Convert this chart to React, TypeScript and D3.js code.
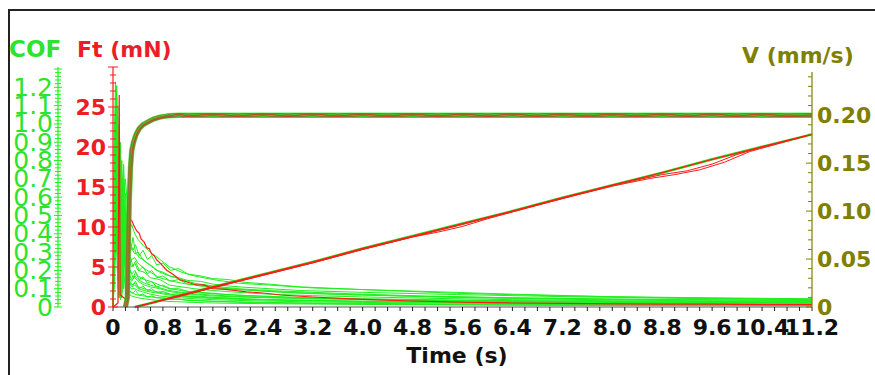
import * as d3 from 'd3';

// time grid shared by the first COF traces (s)
const cofTimes = [0, 0.02, 0.04, 0.06, 0.08, 0.1, 0.12, 0.14, 0.17, 0.2, 0.23, 0.26, 0.3, 0.35, 0.4, 0.5, 0.6, 0.75, 0.9, 1.1, 1.3, 1.6, 2.0, 2.5, 3.2, 4.0, 5.0, 6.4, 8.0, 9.6, 11.2];

const cof1 = [0, 0.9, 1.23, 0.7, 0.3, 0.1, 0.05, 0.3, 0.6, 0.7, 0.55, 0.42, 0.45, 0.4, 0.37, 0.33, 0.3, 0.26, 0.22, 0.19, 0.17, 0.15, 0.13, 0.12, 0.104, 0.095, 0.085, 0.07, 0.056, 0.05, 0.045];
const cof2 = [0, 0.5, 0.95, 1.21, 0.6, 0.2, 0.04, 0.2, 0.78, 0.5, 0.35, 0.3, 0.32, 0.29, 0.3, 0.25, 0.23, 0.19, 0.17, 0.15, 0.13, 0.115, 0.1, 0.09, 0.08, 0.07, 0.06, 0.05, 0.042, 0.038, 0.035];
const cof3 = [0, 0.3, 0.7, 1.0, 1.1, 0.5, 0.1, 0.05, 0.4, 0.62, 0.4, 0.25, 0.22, 0.24, 0.2, 0.19, 0.16, 0.15, 0.12, 0.11, 0.1, 0.09, 0.08, 0.07, 0.062, 0.055, 0.048, 0.04, 0.034, 0.03, 0.028];
const cof4 = [0, 0.6, 1.05, 0.5, 0.15, 0.6, 0.9, 0.3, 0.1, 0.45, 0.3, 0.2, 0.18, 0.2, 0.17, 0.15, 0.14, 0.12, 0.1, 0.09, 0.08, 0.072, 0.065, 0.058, 0.05, 0.045, 0.04, 0.035, 0.03, 0.027, 0.025];
const cof5 = [0, 0.4, 0.8, 1.15, 0.4, 0.05, 0.3, 0.7, 0.35, 0.2, 0.25, 0.18, 0.15, 0.16, 0.14, 0.12, 0.11, 0.1, 0.085, 0.075, 0.068, 0.06, 0.055, 0.05, 0.045, 0.04, 0.035, 0.03, 0.025, 0.022, 0.02];
const cof6 = [0, 0.2, 0.55, 0.85, 1.0, 0.8, 0.3, 0.08, 0.2, 0.35, 0.2, 0.14, 0.12, 0.13, 0.11, 0.1, 0.09, 0.08, 0.07, 0.062, 0.056, 0.05, 0.045, 0.04, 0.036, 0.032, 0.028, 0.024, 0.02, 0.018, 0.016];
const cof7 = [0, 0.7, 1.1, 0.9, 0.35, 0.1, 0.5, 0.8, 0.5, 0.25, 0.16, 0.11, 0.1, 0.1, 0.09, 0.08, 0.07, 0.06, 0.055, 0.05, 0.045, 0.04, 0.036, 0.032, 0.028, 0.025, 0.022, 0.019, 0.016, 0.014, 0.012];
const cof8 = [0, 0.35, 0.9, 0.6, 0.2, 0.4, 0.75, 0.55, 0.2, 0.1, 0.08, 0.09, 0.08, 0.07, 0.065, 0.06, 0.055, 0.05, 0.045, 0.04, 0.036, 0.032, 0.028, 0.025, 0.022, 0.02, 0.017, 0.015, 0.012, 0.01, 0.01];
const cof9 = [0, 0.8, 1.0, 0.45, 0.1, 0.05, 0.2, 0.6, 0.7, 0.3, 0.12, 0.07, 0.06, 0.055, 0.05, 0.045, 0.04, 0.035, 0.03, 0.028, 0.025, 0.022, 0.02, 0.018, 0.016, 0.014, 0.012, 0.01, 0.009, 0.008, 0.008];
const cof10 = [0, 0.25, 0.6, 0.95, 0.7, 0.25, 0.1, 0.4, 0.6, 0.45, 0.28, 0.22, 0.26, 0.27, 0.24, 0.21, 0.19, 0.16, 0.145, 0.13, 0.12, 0.105, 0.095, 0.085, 0.075, 0.066, 0.058, 0.05, 0.044, 0.04, 0.038];
const cof11 = [0, 0.45, 0.85, 0.65, 0.3, 0.55, 0.2, 0.06, 0.3, 0.5, 0.32, 0.16, 0.14, 0.17, 0.15, 0.13, 0.12, 0.105, 0.09, 0.08, 0.072, 0.065, 0.058, 0.052, 0.047, 0.042, 0.037, 0.032, 0.028, 0.025, 0.023];
const cof12 = [0, 0.15, 0.4, 0.7, 0.9, 0.45, 0.15, 0.2, 0.45, 0.38, 0.2, 0.13, 0.11, 0.12, 0.1, 0.09, 0.082, 0.074, 0.066, 0.058, 0.052, 0.047, 0.042, 0.038, 0.034, 0.03, 0.026, 0.022, 0.019, 0.017, 0.015];

// denser grid for the jagged traces
const cofTimesB = [0, 0.03, 0.05, 0.07, 0.09, 0.11, 0.13, 0.16, 0.19, 0.22, 0.25, 0.28, 0.32, 0.36, 0.42, 0.48, 0.55, 0.62, 0.7, 0.8, 0.92, 1.05, 1.2, 1.4, 1.6, 1.85, 2.1, 2.5, 3.0, 4.0, 5.5, 7.0, 9.0, 11.2];
const cofB1 = [0, 0.6, 0.3, 0.9, 0.5, 0.2, 0.6, 0.3, 0.55, 0.4, 0.3, 0.35, 0.31, 0.34, 0.28, 0.31, 0.26, 0.28, 0.23, 0.24, 0.2, 0.21, 0.18, 0.17, 0.155, 0.15, 0.135, 0.125, 0.11, 0.095, 0.075, 0.062, 0.05, 0.042];
const cofB2 = [0, 0.4, 0.8, 0.3, 0.7, 0.9, 0.4, 0.2, 0.5, 0.3, 0.24, 0.27, 0.22, 0.25, 0.2, 0.22, 0.18, 0.2, 0.16, 0.17, 0.14, 0.15, 0.125, 0.12, 0.11, 0.1, 0.095, 0.085, 0.075, 0.065, 0.052, 0.043, 0.035, 0.03];
const cofB3 = [0, 0.2, 0.5, 0.75, 0.35, 0.6, 0.8, 0.5, 0.35, 0.25, 0.18, 0.2, 0.16, 0.19, 0.15, 0.165, 0.13, 0.14, 0.11, 0.12, 0.1, 0.1, 0.085, 0.08, 0.075, 0.068, 0.062, 0.057, 0.05, 0.043, 0.035, 0.028, 0.022, 0.02];
const cofB4 = [0, 0.5, 0.9, 0.6, 0.25, 0.45, 0.3, 0.65, 0.4, 0.2, 0.15, 0.13, 0.12, 0.14, 0.1, 0.115, 0.09, 0.1, 0.08, 0.085, 0.07, 0.072, 0.06, 0.058, 0.053, 0.05, 0.045, 0.04, 0.036, 0.03, 0.024, 0.019, 0.015, 0.013];
const cofB5 = [0, 0.3, 0.65, 1.05, 0.5, 0.3, 0.55, 0.7, 0.3, 0.45, 0.35, 0.3, 0.38, 0.3, 0.27, 0.26, 0.24, 0.22, 0.2, 0.19, 0.17, 0.16, 0.145, 0.14, 0.125, 0.115, 0.108, 0.1, 0.09, 0.08, 0.068, 0.058, 0.048, 0.04];
const cofB6 = [0, 0.7, 0.4, 0.2, 0.6, 0.35, 0.15, 0.4, 0.25, 0.12, 0.1, 0.08, 0.075, 0.09, 0.065, 0.07, 0.055, 0.06, 0.05, 0.05, 0.042, 0.044, 0.036, 0.034, 0.03, 0.028, 0.025, 0.022, 0.02, 0.017, 0.013, 0.01, 0.008, 0.007];

const cofSeriesA = [cof1, cof2, cof3, cof4, cof5, cof6, cof7, cof8, cof9, cof10, cof11, cof12];
const cofSeriesB = [cofB1, cofB2, cofB3, cofB4, cofB5, cofB6];

// tangential force (mN)
const ftTimes = [0, 0.08, 0.1, 0.115, 0.2, 0.26, 0.3, 0.34, 0.38, 0.42, 0.45, 0.5, 0.54, 0.58, 0.62, 0.66, 0.7, 0.78, 0.86, 0.96, 1.07, 1.2, 1.34, 1.45, 1.6, 1.8, 2.14, 2.4, 2.68, 3.2, 4.0, 4.8, 5.6, 6.4, 7.2, 8.0, 8.8, 9.6, 10.4, 11.2];
const ftValues = [0, 0.5, 26.5, 1.5, 1, 11, 10.8, 10.1, 9.5, 9.2, 8.5, 8.1, 7.4, 7.3, 6.6, 6.4, 5.9, 5.3, 4.6, 4.1, 3.4, 3.1, 2.75, 2.8, 2.3, 2.2, 1.9, 1.75, 1.5, 1.25, 0.95, 0.75, 0.6, 0.5, 0.45, 0.4, 0.35, 0.35, 0.3, 0.3];

// velocity (mm/s)
const velTimes = [0.2, 0.23, 0.245, 0.26, 0.28, 0.3, 0.33, 0.37, 0.42, 0.48, 0.56, 0.65, 0.75, 0.9, 1.05, 1.2, 1.6, 2.0, 2.4, 2.8, 3.2, 3.6, 4.0, 4.4, 4.8, 5.2, 5.6, 6.0, 6.4, 6.8, 7.2, 7.6, 8.0, 8.4, 8.8, 9.2, 9.6, 10.0, 10.4, 10.8, 11.2];
const velA = [0, 0.01, 0.06, 0.11, 0.145, 0.163, 0.172, 0.18, 0.186, 0.19, 0.193, 0.196, 0.198, 0.1995, 0.2, 0.2, 0.2, 0.2, 0.2, 0.2, 0.2, 0.2, 0.2, 0.2, 0.2, 0.2, 0.2, 0.2, 0.2, 0.2, 0.2, 0.2, 0.2, 0.2, 0.2, 0.2, 0.2, 0.2, 0.2, 0.2, 0.2];
const velB = [0, 0.012, 0.065, 0.115, 0.148, 0.165, 0.174, 0.181, 0.187, 0.191, 0.194, 0.197, 0.199, 0.2015, 0.1985, 0.2015, 0.1985, 0.2015, 0.1985, 0.2015, 0.1985, 0.2015, 0.1985, 0.2015, 0.1985, 0.2015, 0.1985, 0.2015, 0.1985, 0.2015, 0.1985, 0.2015, 0.1985, 0.2015, 0.1985, 0.2015, 0.1985, 0.2015, 0.1985, 0.2015, 0.2];
const velC = [0, 0.008, 0.055, 0.105, 0.142, 0.16, 0.17, 0.178, 0.185, 0.189, 0.192, 0.195, 0.197, 0.1985, 0.2015, 0.1985, 0.2015, 0.1985, 0.2015, 0.1985, 0.2015, 0.1985, 0.2015, 0.1985, 0.2015, 0.1985, 0.2015, 0.1985, 0.2015, 0.1985, 0.2015, 0.1985, 0.2015, 0.1985, 0.2015, 0.1985, 0.2015, 0.1985, 0.2015, 0.1985, 0.2];

// ramps drawn against the right axis
const rampTimes = [0.35, 0.6, 1.0, 1.6, 2.4, 3.2, 4.0, 4.8, 5.6, 6.4, 7.2, 8.0, 8.8, 9.6, 10.4, 11.2];
const rampA = [0, 0.004, 0.011, 0.021, 0.034, 0.047, 0.061, 0.074, 0.087, 0.1, 0.114, 0.127, 0.14, 0.154, 0.167, 0.18];
const rampBTimes = [0.35, 0.8, 1.6, 2.4, 3.2, 4.0, 4.8, 5.6, 6.4, 7.2, 8.0, 8.6, 9.0, 9.4, 9.8, 10.2, 11.2];
const rampB = [0, 0.007, 0.02, 0.033, 0.046, 0.06, 0.073, 0.086, 0.1, 0.113, 0.126, 0.134, 0.138, 0.143, 0.151, 0.162, 0.18];
const rampCTimes = [0.35, 1.0, 1.6, 2.4, 3.2, 4.0, 4.8, 5.2, 5.6, 6.0, 6.4, 7.2, 8.0, 8.8, 9.2, 9.6, 10.0, 10.4, 11.2];
const rampC = [0, 0.01, 0.02, 0.033, 0.046, 0.06, 0.073, 0.078, 0.084, 0.092, 0.099, 0.113, 0.127, 0.138, 0.142, 0.149, 0.159, 0.167, 0.18];

const xTickLabels = ['0', '0.8', '1.6', '2.4', '3.2', '4.0', '4.8', '5.6', '6.4', '7.2', '8.0', '8.8', '9.6', '10.4', '11.2'];
const cofTickLabels = ['0', '0.1', '0.2', '0.3', '0.4', '0.5', '0.6', '0.7', '0.8', '0.9', '1.0', '1.1', '1.2'];
const ftTickLabels = ['0', '5', '10', '15', '20', '25'];
const vTickLabels = ['0', '0.05', '0.10', '0.15', '0.20'];

const GREEN = '#1ef01e';
const GREEN_TXT = '#2ee32e';
const RED = '#ff1a1a';
const RED_TXT = '#ee1c24';
const OLIVE = '#808000';
const BROWN = '#8a7733';
const FONT = '"DejaVu Sans", Verdana, sans-serif';

export default function App() {
  const x = d3.scaleLinear().domain([0, 11.2]).range([113, 812]);
  const yFt = d3.scaleLinear().domain([0, 30]).range([307, 67]);
  const yCof = d3.scaleLinear().domain([0, 1.311]).range([307, 67]);
  const yV = d3.scaleLinear().domain([0, 0.245]).range([307, 72]);

  const path = (ts: number[], vs: number[], y: d3.ScaleLinear<number, number>) =>
    d3
      .line<number>()
      .x((_, i) => x(ts[i]))
      .y((v) => y(v))(vs) ?? '';

  const xMinor = d3.range(0, 11.2001, 0.2);
  const ftMinor = d3.range(0, 30.001, 1);
  const cofMinor = d3.range(0, 1.3001, 0.02);
  const vMinor = d3.range(0, 0.2451, 0.01);

  return (
    <svg
      width={875}
      height={375}
      style={{ position: 'absolute', left: 0, top: 0, background: '#fff' }}
      fontFamily={FONT}
    >
      {/* frame */}
      <rect x={9} y={10} width={880} height={380} fill='none' stroke='#222' strokeWidth={2} />

      {/* COF traces */}
      {cofSeriesA.map((s, i) => (
        <path key={'a' + i} d={path(cofTimes, s, yCof)} fill='none' stroke={GREEN} strokeWidth={1} />
      ))}
      {cofSeriesB.map((s, i) => (
        <path key={'b' + i} d={path(cofTimesB, s, yCof)} fill='none' stroke={GREEN} strokeWidth={1} />
      ))}

      {/* ramps */}
      <path d={path(rampTimes, rampA, yV)} fill='none' stroke={GREEN} strokeWidth={2.5} />
      <path d={path(rampBTimes, rampB, yV)} fill='none' stroke={RED} strokeWidth={1} />
      <path d={path(rampCTimes, rampC, yV)} fill='none' stroke={RED} strokeWidth={1} />
      <path d={path(rampTimes, rampA, yV)} fill='none' stroke={RED} strokeWidth={1.3} />

      {/* Ft */}
      <path d={path(ftTimes, ftValues, yFt)} fill='none' stroke={RED} strokeWidth={1.2} />

      {/* velocity */}
      <path d={path(velTimes, velA, yV)} fill='none' stroke={GREEN} strokeWidth={5.5} opacity={0.7} />
      <path d={path(velTimes, velA, yV)} fill='none' stroke={BROWN} strokeWidth={4.5} />
      <path d={path(velTimes, velB, yV)} fill='none' stroke={GREEN} strokeWidth={1} opacity={0.7} />
      <path d={path(velTimes, velC, yV)} fill='none' stroke={RED} strokeWidth={1} opacity={0.5} />

      {/* x axis */}
      <line x1={113} x2={812} y1={307} y2={307} stroke='#555' strokeWidth={1} />
      {xMinor.map((t) => (
        <line key={t} x1={x(t)} x2={x(t)} y1={307} y2={311} stroke='#222' strokeWidth={1} />
      ))}
      {xTickLabels.map((l) => (
        <text key={l} x={x(+l)} y={335} textAnchor='middle' fontSize={22} fontWeight='bold' fill='#111'>
          {l}
        </text>
      ))}
      <text x={457} y={363} textAnchor='middle' fontSize={22} fontWeight='bold' fill='#111'>
        Time (s)
      </text>

      {/* Ft axis */}
      <line x1={113} x2={113} y1={67} y2={307} stroke={RED} strokeWidth={1.2} />
      {ftMinor.map((v) => (
        <line
          key={v}
          x1={v % 5 === 0 ? 108 : 110}
          x2={v % 5 === 0 ? 118 : 116}
          y1={yFt(v)}
          y2={yFt(v)}
          stroke={RED}
          strokeWidth={1}
        />
      ))}
      {ftTickLabels.map((l) => (
        <text key={l} x={106} y={yFt(+l)} textAnchor='end' dominantBaseline='central' fontSize={22} fontWeight='bold' fill={RED_TXT}>
          {l}
        </text>
      ))}
      <text x={77} y={57} fontSize={22} fontWeight='bold' fill={RED_TXT}>
        Ft (mN)
      </text>

      {/* COF axis */}
      <line x1={58} x2={58} y1={67} y2={307} stroke={GREEN} strokeWidth={1.2} />
      {cofMinor.map((v, i) => (
        <line
          key={i}
          x1={i % 5 === 0 ? 54 : 55}
          x2={i % 5 === 0 ? 62 : 61}
          y1={yCof(v)}
          y2={yCof(v)}
          stroke={GREEN}
          strokeWidth={1}
        />
      ))}
      {cofTickLabels.map((l) => (
        <text key={l} x={53} y={yCof(+l)} textAnchor='end' dominantBaseline='central' fontSize={25} fill={GREEN_TXT}>
          {l}
        </text>
      ))}
      <text x={9} y={57} fontSize={23} fontWeight='bold' fill={GREEN_TXT}>
        COF
      </text>

      {/* V axis */}
      <line x1={812} x2={812} y1={72} y2={307} stroke={OLIVE} strokeWidth={1.2} />
      {vMinor.map((v, i) => (
        <line
          key={i}
          x1={i % 5 === 0 ? 806 : 808}
          x2={812}
          y1={yV(v)}
          y2={yV(v)}
          stroke={OLIVE}
          strokeWidth={1}
        />
      ))}
      {vTickLabels.map((l) => (
        <text key={l} x={817} y={yV(+l)} dominantBaseline='central' fontSize={22} fontWeight='bold' fill={OLIVE}>
          {l}
        </text>
      ))}
      <text x={742} y={63} fontSize={22} fontWeight='bold' fill={OLIVE}>
        V (mm/s)
      </text>
    </svg>
  );
}
